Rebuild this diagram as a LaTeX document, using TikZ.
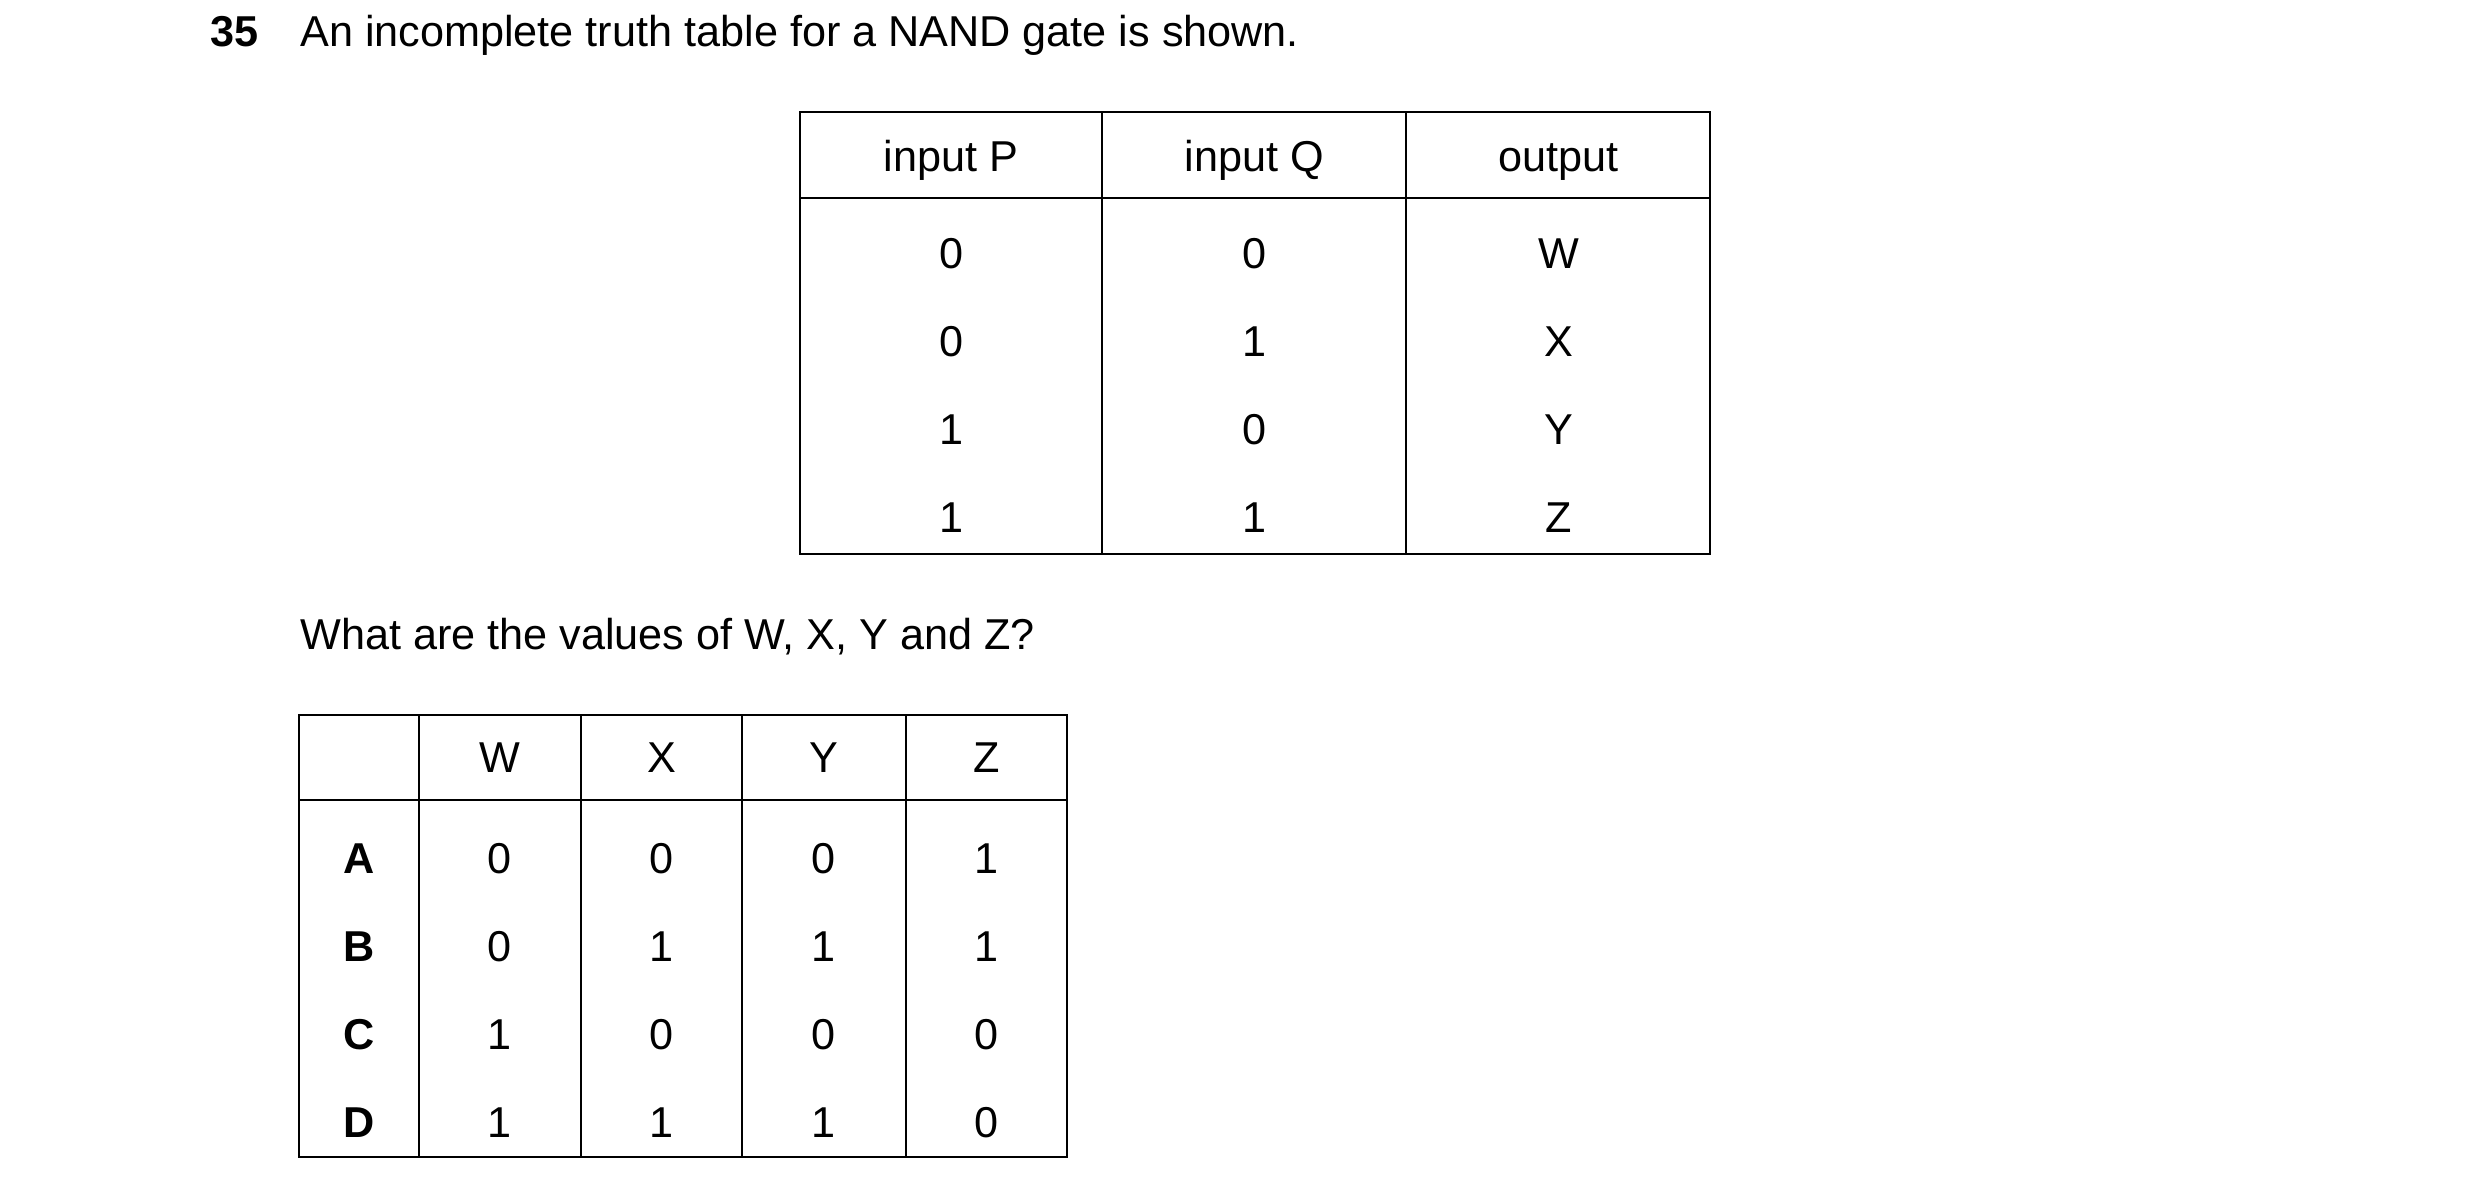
\documentclass[tikz,border=0pt]{standalone}
\usepackage{fontspec}
\setmainfont{Liberation Sans}
\begin{document}
\begin{tikzpicture}[x=1pt,y=-1pt,line width=1.3pt,
  t/.style={font=\fontsize{27}{32}\selectfont,inner sep=0pt},
  tb/.style={t,font=\fontsize{27}{32}\selectfont\bfseries}]
\useasboundingbox (0,0) rectangle (1550,740);
\node[tb,anchor=base west] (num) at (131,29) {35};
\node[t,anchor=base west] (q) at (187,29) {An incomplete truth table for a NAND gate is shown.};
% top table
\draw (500,70) rectangle (1069,346);
\draw (500,124) -- (1069,124);
\draw (689,70) -- (689,346);
\draw (879,70) -- (879,346);
\foreach \x/\a/\b/\c/\d/\e in {594.5/input P/0/0/1/1, 784/input Q/0/1/0/1, 974/output/W/X/Y/Z}{
  \node[t,anchor=base] at (\x,107) {\a};
  \node[t,anchor=base] at (\x,168) {\b};
  \node[t,anchor=base] at (\x,223) {\c};
  \node[t,anchor=base] at (\x,278) {\d};
  \node[t,anchor=base] at (\x,333) {\e};
}
\node[t,anchor=base west] (q2) at (187,406) {What are the values of W, X, Y and Z?};
% bottom table
\draw (187,447) rectangle (667,723);
\draw (187,500) -- (667,500);
\foreach \x in {262,363,464,566} \draw (\x,447) -- (\x,723);
\foreach \x/\h in {312.5/W,413.5/X,515/Y,616.5/Z} \node[t,anchor=base] at (\x,483) {\h};
\foreach \y/\l/\w/\xx/\yy/\z in {546/A/0/0/0/1, 601/B/0/1/1/1, 656/C/1/0/0/0, 711/D/1/1/1/0}{
  \node[tb,anchor=base] at (224.5,\y) {\l};
  \node[t,anchor=base] at (312.5,\y) {\w};
  \node[t,anchor=base] at (413.5,\y) {\xx};
  \node[t,anchor=base] at (515,\y) {\yy};
  \node[t,anchor=base] at (616.5,\y) {\z};
}
\end{tikzpicture}
\end{document}
